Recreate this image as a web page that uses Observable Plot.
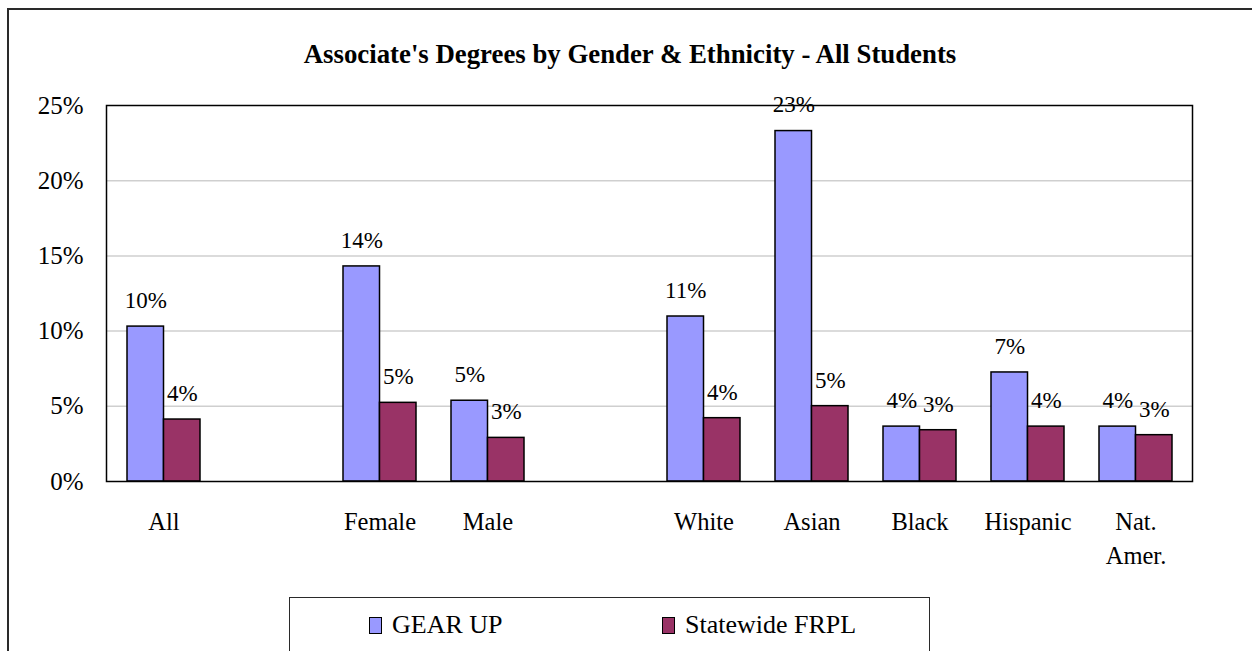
<!DOCTYPE html>
<html>
<head>
<meta charset="utf-8">
<script src="https://cdn.jsdelivr.net/npm/d3@7"></script>
<script src="https://cdn.jsdelivr.net/npm/@observablehq/plot@0.6"></script>
<style>
  html, body { margin: 0; padding: 0; background: #fff; overflow: hidden; }
  #wrap { position: relative; width: 1252px; height: 651px; font-family: "Liberation Serif", "Times New Roman", serif; color: #000; }
  #chart { position: absolute; left: 0; top: 0; }
  #outer { position: absolute; left: 7px; top: 8px; width: 1320px; height: 720px; border: 2px solid #2a2a2a; box-sizing: border-box; pointer-events: none; }
  #title { position: absolute; left: 4px; width: 1252px; top: 39px; text-align: center; font-weight: bold; font-size: 26.8px; white-space: nowrap; }
  #legend { position: absolute; left: 289px; top: 597px; width: 641px; height: 120px; border: 1px solid #2a2a2a; box-sizing: border-box; background: #fff; }
  .item { position: absolute; top: 12px; font-size: 26px; line-height: 30px; white-space: nowrap; }
  .sw { display: inline-block; width: 11px; height: 15px; border: 1px solid #000; vertical-align: -1px; margin-right: 10px; }
</style>
</head>
<body>
<div id="wrap">
  <div id="chart"></div>
  <div id="title"></div>
  <div id="legend"></div>
  <div id="outer"></div>
</div>
<script>
// ---- data ----
const title = "Associate's Degrees by Gender & Ethnicity - All Students";
const slots = ["All", "gap1", "Female", "Male", "gap2", "White", "Asian", "Black", "Hispanic", "Nat. Amer."];
const groups = ["All", "Female", "Male", "White", "Asian", "Black", "Hispanic", "Nat. Amer."];
const seriesNames = ["GEAR UP", "Statewide FRPL"];
const seriesColors = ["#9999FF", "#993366"];
const gearUp = [10.3, 14.3, 5.37, 10.97, 23.3, 3.65, 7.25, 3.65];
const frpl = [4.12, 5.23, 2.9, 4.21, 5.01, 3.41, 3.65, 3.08];
const yTicks = [0, 5, 10, 15, 20, 25];

const rowsGear = groups.map((g, i) => ({group: g, value: gearUp[i]}));
const rowsFrpl = groups.map((g, i) => ({group: g, value: frpl[i]}));
const pct = v => Math.round(v) + "%";

const W = 1252, H = 651;
const mL = 106, mR = 60, mT = 105, mB = 170;
const padInner = 0.328;
const step = (W - mL - mR) / slots.length;
const half = step * (1 - padInner) / 2;
const serif = "Liberation Serif, Times New Roman, serif";

const chart = Plot.plot({
  width: W,
  height: H,
  marginLeft: mL,
  marginRight: mR,
  marginTop: mT,
  marginBottom: mB,
  style: {background: "transparent", fontFamily: serif, fontSize: "24px", color: "#000"},
  x: {domain: slots, paddingInner: padInner, paddingOuter: padInner / 2, label: null},
  y: {domain: [0, 25], label: null},
  marks: [
    Plot.gridY(yTicks.filter(t => t > 0 && t < 25), {stroke: "#cfcfcf", strokeOpacity: 1, strokeWidth: 1.5}),
    Plot.barY(rowsGear, {x: "group", y: "value", fill: seriesColors[0], stroke: "#000", strokeWidth: 1.5, insetRight: half}),
    Plot.barY(rowsFrpl, {x: "group", y: "value", fill: seriesColors[1], stroke: "#000", strokeWidth: 1.5, insetLeft: half}),
    Plot.text(rowsGear, {x: "group", y: "value", text: d => pct(d.value), dx: -half / 2, dy: -26, fontSize: 23, fontFamily: serif, fill: "#000"}),
    Plot.text(rowsFrpl, {x: "group", y: "value", text: d => pct(d.value), dx: half / 2, dy: -26, fontSize: 23, fontFamily: serif, fill: "#000"}),
    Plot.axisY({ticks: yTicks, tickFormat: d => d + "%", tickSize: 0, tickPadding: 23, fontSize: 25, fontFamily: serif}),
    Plot.axisX({tickSize: 0, tickPadding: 24, fontSize: 24.5, fontFamily: serif, lineHeight: 1.4,
      tickFormat: d => d.startsWith("gap") ? "" : d.replace("Nat. ", "Nat.\n")}),
    Plot.frame({stroke: "#000", strokeWidth: 1.5})
  ]
});
document.getElementById("chart").appendChild(chart);

document.getElementById("title").textContent = title;

const legend = document.getElementById("legend");
const itemLeft = [79, 372];
seriesNames.forEach((name, i) => {
  const item = document.createElement("div");
  item.className = "item";
  item.style.left = itemLeft[i] + "px";
  const sw = document.createElement("span");
  sw.className = "sw";
  sw.style.background = seriesColors[i];
  item.appendChild(sw);
  item.appendChild(document.createTextNode(name));
  legend.appendChild(item);
});
</script>
</body>
</html>
